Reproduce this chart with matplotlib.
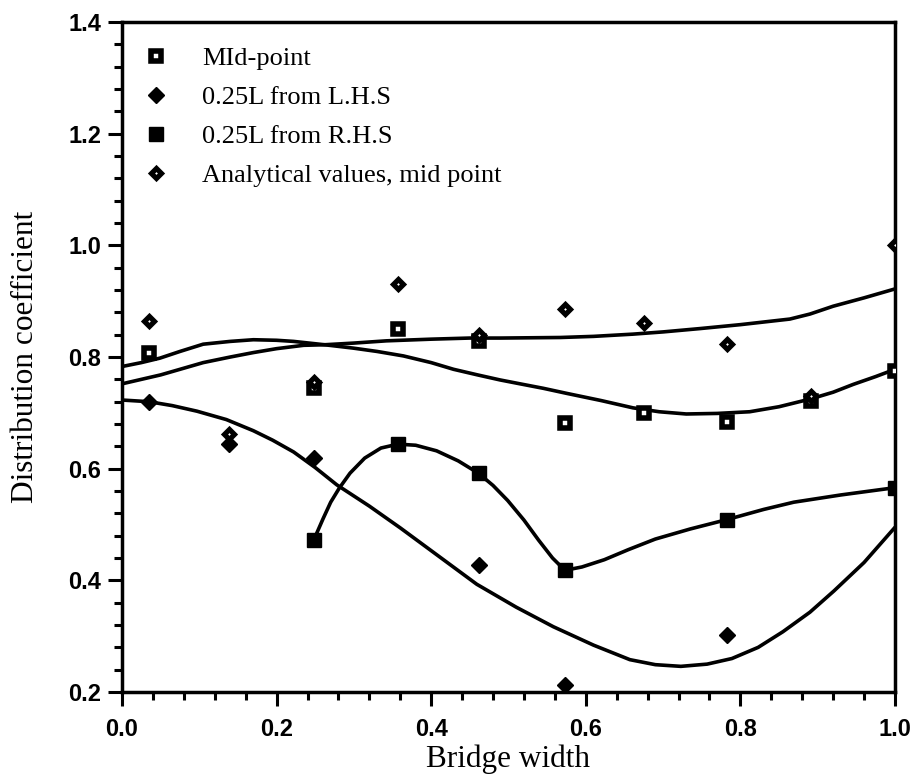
import matplotlib
matplotlib.use("Agg")
import matplotlib.pyplot as plt
from matplotlib.ticker import MultipleLocator, FormatStrFormatter

# ---- measured points -------------------------------------------------------
mid_x = [0.035, 0.248, 0.357, 0.462, 0.573, 0.675, 0.783, 0.891, 1.0]
mid_y = [0.808, 0.745, 0.850, 0.828, 0.681, 0.700, 0.684, 0.722, 0.775]

lhs_x = [0.035, 0.139, 0.248, 0.462, 0.573, 0.783]
lhs_y = [0.720, 0.644, 0.619, 0.428, 0.213, 0.303]

rhs_x = [0.248, 0.357, 0.462, 0.573, 0.783, 1.0]
rhs_y = [0.472, 0.644, 0.592, 0.418, 0.509, 0.566]

ana_x = [0.035, 0.139, 0.248, 0.357, 0.462, 0.573, 0.675, 0.783, 0.891, 1.0]
ana_y = [0.865, 0.662, 0.756, 0.931, 0.840, 0.886, 0.861, 0.824, 0.731, 1.0]

# ---- fitted curves ---------------------------------------------------------
fit_a_x = [0.0, 0.05, 0.105, 0.14, 0.17, 0.2, 0.235, 0.262, 0.30, 0.342, 0.40,
           0.45, 0.49, 0.567, 0.61, 0.661, 0.70, 0.748, 0.80, 0.864, 0.89,
           0.92, 0.96, 1.0]
fit_a_y = [0.752, 0.768, 0.790, 0.800, 0.808, 0.815, 0.821, 0.822, 0.825, 0.829,
           0.832, 0.834, 0.834, 0.835, 0.837, 0.841, 0.845, 0.851, 0.858, 0.868,
           0.877, 0.891, 0.906, 0.922]

fit_b_x = [0.0, 0.025, 0.049, 0.075, 0.105, 0.14, 0.17, 0.2, 0.222, 0.262, 0.299,
           0.33, 0.364, 0.40, 0.429, 0.46, 0.489, 0.515, 0.545, 0.575, 0.62,
           0.661, 0.695, 0.730, 0.77, 0.812, 0.85, 0.891, 0.92, 0.946, 0.975, 1.0]
fit_b_y = [0.783, 0.790, 0.798, 0.810, 0.823, 0.828, 0.831, 0.830, 0.828, 0.822,
           0.816, 0.810, 0.802, 0.790, 0.778, 0.768, 0.759, 0.752, 0.744, 0.735,
           0.722, 0.709, 0.702, 0.698, 0.699, 0.702, 0.711, 0.725, 0.737, 0.751,
           0.765, 0.778]

fit_lhs_x = [0.0, 0.035, 0.065, 0.097, 0.135, 0.17, 0.195, 0.222, 0.25, 0.278,
             0.32, 0.36, 0.41, 0.459, 0.51, 0.558, 0.61, 0.657, 0.69, 0.723,
             0.757, 0.789, 0.823, 0.855, 0.89, 0.921, 0.96, 1.0]
fit_lhs_y = [0.723, 0.720, 0.713, 0.703, 0.688, 0.668, 0.651, 0.630, 0.602, 0.571,
             0.533, 0.494, 0.443, 0.393, 0.352, 0.317, 0.284, 0.258, 0.249, 0.246,
             0.250, 0.260, 0.280, 0.308, 0.343, 0.381, 0.432, 0.495]

fit_rhs_x = [0.248, 0.26, 0.27, 0.281, 0.295, 0.314, 0.335, 0.357, 0.38, 0.407,
             0.435, 0.461, 0.48, 0.499, 0.52, 0.539, 0.557, 0.573, 0.595, 0.624,
             0.655, 0.69, 0.735, 0.783, 0.83, 0.869, 0.93, 1.0]
fit_rhs_y = [0.472, 0.510, 0.540, 0.565, 0.592, 0.619, 0.637, 0.644, 0.642, 0.632,
             0.614, 0.592, 0.570, 0.543, 0.508, 0.472, 0.440, 0.418, 0.424, 0.437,
             0.455, 0.474, 0.492, 0.509, 0.527, 0.540, 0.553, 0.566]

x_ticks = [0.0, 0.2, 0.4, 0.6, 0.8, 1.0]
y_ticks = [0.2, 0.4, 0.6, 0.8, 1.0, 1.2, 1.4]

labels = ["MId-point", "0.25L from L.H.S", "0.25L from R.H.S",
          "Analytical values, mid point"]

SERIF = ["Liberation Serif", "DejaVu Serif"]
SANS = ["Liberation Sans", "DejaVu Sans"]

fig = plt.figure(figsize=(9.2, 7.84), dpi=100)
ax = fig.add_axes([0.1326, 0.1173, 0.8402, 0.8546])

lw = 2.6
for cx, cy in [(fit_a_x, fit_a_y), (fit_b_x, fit_b_y),
               (fit_lhs_x, fit_lhs_y), (fit_rhs_x, fit_rhs_y)]:
    ax.plot(cx, cy, color="black", lw=lw, solid_joinstyle="round",
            solid_capstyle="round", zorder=2)

h_mid, = ax.plot(mid_x, mid_y, ls="none", marker="s", ms=6.5, mfc="white",
                 mec="black", mew=4.0, zorder=4, label=labels[0])
h_lhs, = ax.plot(lhs_x, lhs_y, ls="none", marker="D", ms=8, mfc="black",
                 mec="black", mew=1.0, zorder=4, label=labels[1])
h_rhs, = ax.plot(rhs_x, rhs_y, ls="none", marker="s", ms=10, mfc="black",
                 mec="black", mew=1.0, zorder=4, label=labels[2])
h_ana, = ax.plot(ana_x, ana_y, ls="none", marker="D", ms=4.8, mfc="white",
                 mec="black", mew=3.7, zorder=4, label=labels[3])

ax.set_xlim(0.0, 1.0)
ax.set_ylim(0.2, 1.4)
ax.set_xticks(x_ticks)
ax.set_yticks(y_ticks)
ax.xaxis.set_minor_locator(MultipleLocator(0.04))
ax.yaxis.set_minor_locator(MultipleLocator(0.04))
ax.xaxis.set_major_formatter(FormatStrFormatter("%.1f"))
ax.yaxis.set_major_formatter(FormatStrFormatter("%.1f"))

for side in ["left", "bottom", "right", "top"]:
    ax.spines[side].set_linewidth(2.5)
ax.tick_params(which="both", direction="out", top=False, right=False, width=2.2)
ax.tick_params(which="major", length=10)
ax.tick_params(which="minor", length=6)
ax.tick_params(axis="y", which="major", pad=5)
ax.tick_params(axis="x", which="major", pad=9)
for t in ax.get_xticklabels() + ax.get_yticklabels():
    t.set_fontfamily(SANS)
    t.set_fontweight("bold")
    t.set_fontsize(17)

ax.set_xlabel("Bridge width", fontsize=22.5, family=SERIF)
ax.set_ylabel("Distribution coefficient", fontsize=22.5, family=SERIF)
ax.xaxis.set_label_coords(0.5, -0.079)
ax.yaxis.set_label_coords(-0.106, 0.5)

ax.legend(handles=[h_mid, h_lhs, h_rhs, h_ana], loc="upper left",
          bbox_to_anchor=(0.027, 0.963), frameon=False,
          prop={"family": SERIF, "size": 19}, handlelength=1.0,
          handletextpad=1.25, labelspacing=0.59, borderpad=0.0,
          borderaxespad=0.0, numpoints=1)

fig.savefig("out.png", dpi=100)
